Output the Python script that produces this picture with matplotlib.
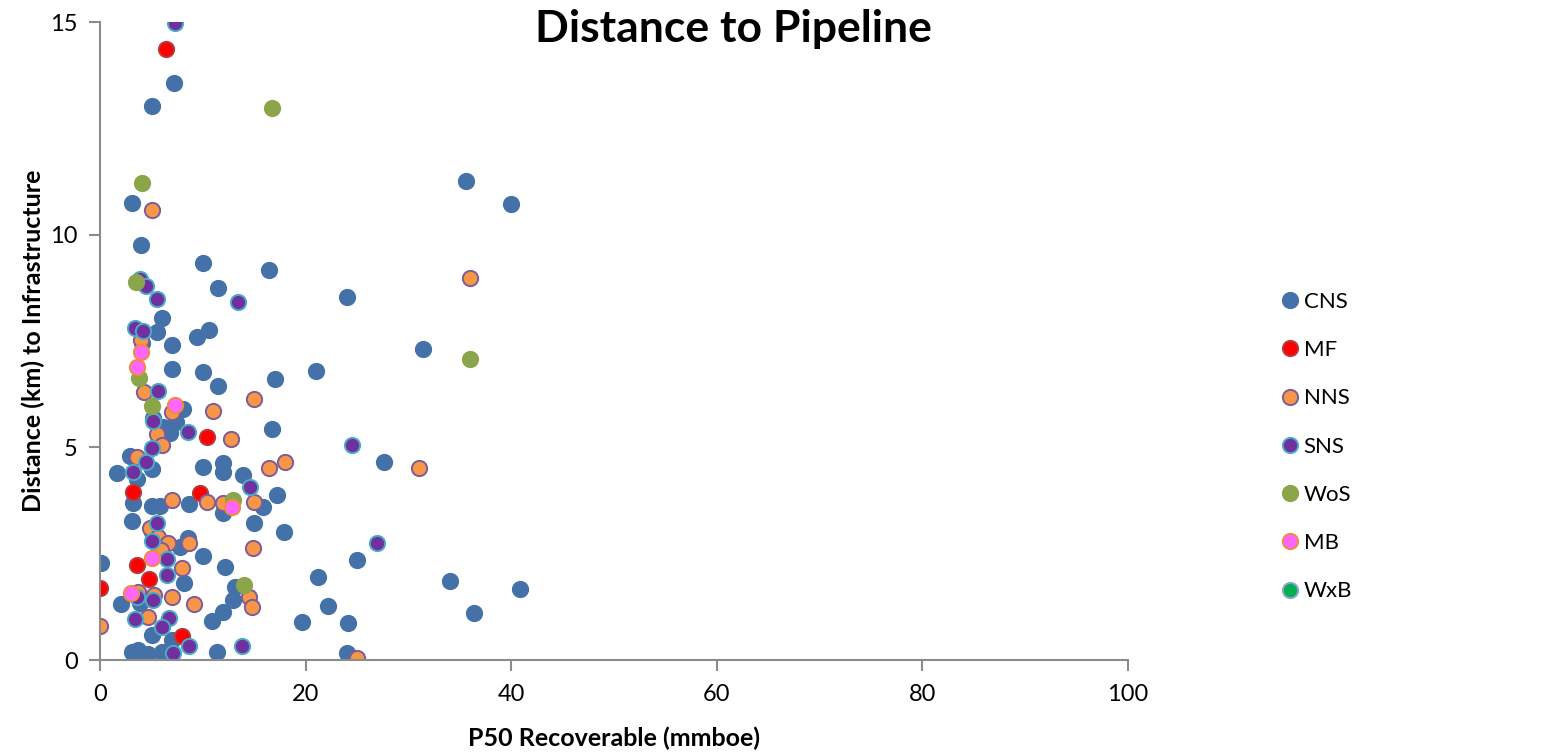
import matplotlib.pyplot as plt

# P50 recoverable (mmboe) and distance (km) to infrastructure, per area
cns_x = [7.20, 5.06, 3.11, 3.99, 10.02, 16.44, 11.48, 24.03, 35.60, 39.98, 31.42, 6.03,
         10.60, 9.44, 5.54, 7.00, 4.09, 7.00, 10.02, 17.02, 21.01, 11.48, 8.07, 7.39,
         5.16, 16.73, 6.13, 6.81, 2.92, 5.06, 1.65, 3.60, 10.02, 11.96, 11.96, 13.91,
         27.63, 17.22, 3.21, 8.66, 5.06, 5.84, 15.86, 11.96, 3.11, 14.98, 17.90, 5.06,
         8.56, 7.78, 10.02, 12.16, 0.10, 8.17, 13.13, 12.94, 11.96, 10.89, 2.04, 3.89,
         5.06, 7.00, 3.11, 3.70, 4.18, 4.67, 6.03, 11.38, 21.21, 25.00, 22.18, 19.65,
         24.12, 24.03, 34.05, 40.86, 36.38]
cns_y = [13.57, 13.03, 10.75, 9.76, 9.33, 9.17, 8.75, 8.54, 11.26, 10.72, 7.31, 8.04,
         7.76, 7.59, 7.71, 7.41, 7.45, 6.84, 6.77, 6.61, 6.80, 6.44, 5.90, 5.60,
         5.69, 5.43, 5.48, 5.34, 4.80, 4.49, 4.40, 4.26, 4.54, 4.63, 4.42, 4.35,
         4.66, 3.88, 3.69, 3.67, 3.62, 3.62, 3.60, 3.46, 3.27, 3.22, 3.01, 3.01,
         2.87, 2.66, 2.45, 2.19, 2.28, 1.81, 1.72, 1.41, 1.13, 0.92, 1.32, 1.34,
         0.59, 0.47, 0.19, 0.24, 0.05, 0.14, 0.19, 0.19, 1.95, 2.35, 1.27, 0.89,
         0.87, 0.16, 1.86, 1.67, 1.11]

mf_x = [6.42, 10.41, 3.21, 9.73, 0.0, 3.60, 4.77, 7.98]
mf_y = [14.37, 5.24, 3.95, 3.93, 1.69, 2.23, 1.90, 0.56]

nns_x = [5.06, 35.99, 3.99, 4.28, 14.98, 7.00, 10.99, 5.54, 12.74, 6.03, 3.60, 16.44,
         18.00, 31.03, 7.00, 10.41, 11.96, 14.98, 4.86, 5.64, 6.61, 8.66, 5.93, 14.88,
         7.98, 14.49, 14.79, 3.70, 5.25, 7.00, 9.14, 4.67, 0.0, 25.0]
nns_y = [10.58, 8.98, 7.52, 6.30, 6.14, 5.83, 5.85, 5.31, 5.20, 5.06, 4.77, 4.51,
         4.66, 4.51, 3.76, 3.72, 3.69, 3.72, 3.10, 2.89, 2.75, 2.75, 2.59, 2.63,
         2.16, 1.48, 1.25, 1.60, 1.53, 1.48, 1.32, 1.01, 0.80, 0.05]

sns_x = [7.30, 3.89, 4.47, 5.54, 13.42, 3.40, 4.18, 5.64, 5.16, 8.56, 5.06, 4.47,
         3.21, 14.59, 24.51, 26.95, 5.54, 5.06, 6.52, 6.52, 3.60, 5.16, 3.40, 6.71,
         6.03, 8.66, 7.10, 13.81]
sns_y = [14.98, 8.96, 8.79, 8.49, 8.42, 7.81, 7.74, 6.32, 5.62, 5.36, 4.98, 4.66,
         4.42, 4.07, 5.06, 2.75, 3.22, 2.80, 2.37, 2.00, 1.48, 1.41, 0.96, 0.99,
         0.78, 0.33, 0.16, 0.33]

wos_x = [4.09, 16.73, 3.50, 3.79, 5.06, 12.94, 14.01, 35.99]
wos_y = [11.22, 12.98, 8.89, 6.63, 5.97, 3.76, 1.76, 7.08]

mb_x = [3.99, 3.60, 7.30, 12.84, 5.06, 3.02]
mb_y = [7.24, 6.89, 6.00, 3.60, 2.40, 1.58]

wxb_x = []
wxb_y = []

series = [
    ("CNS", cns_x, cns_y, "#4472A8", "#4472A8"),
    ("MF", mf_x, mf_y, "#FF0000", "#B83B3B"),
    ("NNS", nns_x, nns_y, "#F79646", "#7B5C9C"),
    ("SNS", sns_x, sns_y, "#7030A0", "#4BACC6"),
    ("WoS", wos_x, wos_y, "#8BA54A", "#8BA54A"),
    ("MB", mb_x, mb_y, "#FF66FF", "#F08A3C"),
    ("WxB", wxb_x, wxb_y, "#00B050", "#8EA4CF"),
]

FONT = "Lato"
GREY = "#8C8C8C"

fig = plt.figure(figsize=(15.54, 7.52), dpi=100)
ax = fig.add_axes([0.0644, 0.1223, 0.6615, 0.8484])

for name, xs, ys, fill, edge in series:
    ax.plot(xs, ys, linestyle="none", marker="o", markersize=11,
            markerfacecolor=fill, markeredgecolor=edge, markeredgewidth=1.4,
            label=name)

ax.set_xlim(0, 100)
ax.set_ylim(0, 15)
ax.set_xticks([0, 20, 40, 60, 80, 100])
ax.set_yticks([0, 5, 10, 15])

for side in ["top", "right"]:
    ax.spines[side].set_visible(False)
for side in ["left", "bottom"]:
    ax.spines[side].set_color(GREY)
    ax.spines[side].set_linewidth(1.5)

ax.tick_params(direction="out", length=8, width=1.5, color=GREY,
               labelsize=17, pad=9)
ax.tick_params(axis="y", pad=8)
for lab in ax.get_xticklabels() + ax.get_yticklabels():
    lab.set_family(FONT)

ax.set_xlabel("P50 Recoverable (mmboe)", fontsize=18, fontweight="bold",
              family=FONT, labelpad=16)
ax.set_ylabel("Distance (km) to Infrastructure", fontsize=18, fontweight="bold",
              family=FONT, labelpad=4)

fig.text(0.4717, 0.962, "Distance to Pipeline", ha="center", va="center",
         fontsize=32, fontweight="bold", family=FONT)

leg = fig.legend(loc="center left", bbox_to_anchor=(0.8117, 0.406), frameon=False,
                 handletextpad=0.2, labelspacing=1.27, handlelength=0.8,
                 prop={"family": FONT, "size": 16})

fig.savefig("out.png", dpi=100)
